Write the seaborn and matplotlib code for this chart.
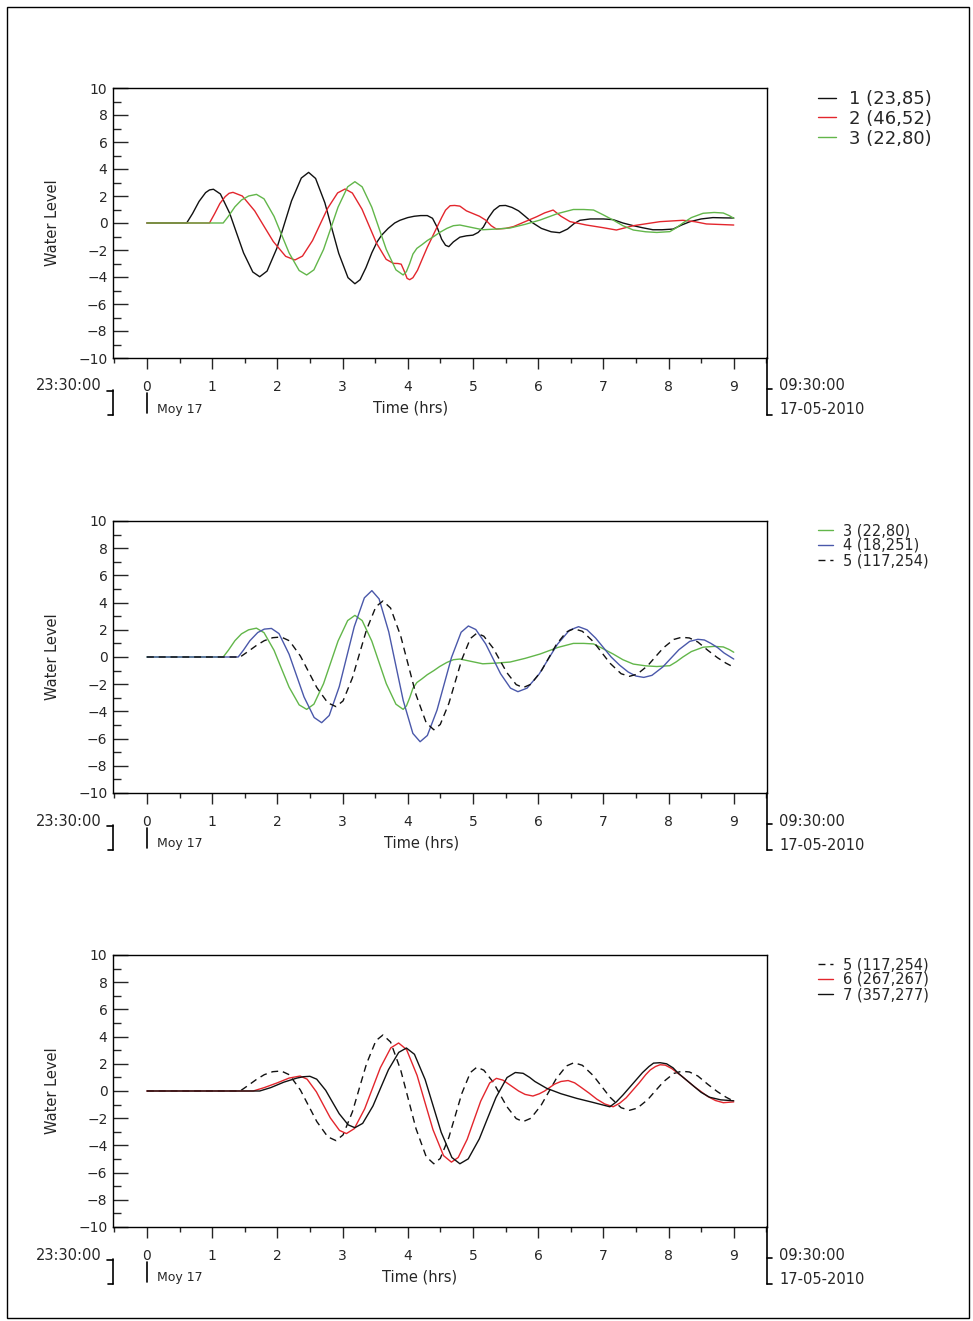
import matplotlib
matplotlib.use("Agg")
import matplotlib.pyplot as plt
from matplotlib.lines import Line2D
from matplotlib.patches import Rectangle
from matplotlib.ticker import MultipleLocator
import pandas as pd
import seaborn as sns

# ---------------------------------------------------------------
# Tide-gauge records: hours after 23:30:00 and water level
# ---------------------------------------------------------------
t1 = [0.0, 0.61, 0.70, 0.80, 0.90, 0.96, 1.02, 1.127, 1.269, 1.375, 1.482, 1.624,
      1.73, 1.843, 1.993, 2.105, 2.218, 2.368, 2.48, 2.587, 2.729, 2.835, 2.942, 3.084,
      3.19, 3.27, 3.36, 3.45, 3.53, 3.60, 3.70, 3.80, 3.88, 4.00, 4.10, 4.20, 4.30, 4.38,
      4.45, 4.52, 4.58, 4.63, 4.70, 4.80, 4.90, 5.00, 5.08, 5.16, 5.24, 5.32, 5.41, 5.50,
      5.60, 5.70, 5.80, 5.92, 6.05, 6.20, 6.33, 6.45, 6.55, 6.64, 6.80, 7.00, 7.15, 7.30,
      7.46, 7.60, 7.76, 7.90, 8.07, 8.20, 8.33, 8.50, 8.68, 8.85, 9.00]
lvl1 = [0.0, 0.0, 0.7, 1.6, 2.25, 2.45, 2.5, 2.15, 0.73, -0.74, -2.21, -3.63,
        -3.98, -3.56, -1.87, -0.12, 1.64, 3.33, 3.75, 3.30, 1.50, -0.375, -2.25, -4.05,
        -4.5, -4.2, -3.3, -2.2, -1.4, -0.9, -0.4, 0.0, 0.2, 0.4, 0.5, 0.55, 0.55, 0.35,
        -0.3, -1.2, -1.65, -1.75, -1.4, -1.05, -0.95, -0.9, -0.7, -0.3, 0.4, 0.95, 1.28, 1.3,
        1.15, 0.9, 0.5, 0.0, -0.4, -0.65, -0.72, -0.45, -0.05, 0.2, 0.3, 0.3, 0.25, 0.0,
        -0.2, -0.35, -0.5, -0.5, -0.45, -0.15, 0.1, 0.3, 0.4, 0.38, 0.37]

t2 = [0.0, 0.96, 1.04, 1.12, 1.20, 1.26, 1.32, 1.463, 1.653, 1.795, 1.938, 2.128,
      2.27, 2.386, 2.540, 2.655, 2.771, 2.925, 3.04, 3.151, 3.299, 3.41, 3.521, 3.669,
      3.78, 3.85, 3.90, 3.95, 3.99, 4.03, 4.08, 4.15, 4.22, 4.30, 4.38, 4.45, 4.52, 4.58,
      4.65, 4.72, 4.80, 4.90, 5.00, 5.10, 5.20, 5.28, 5.36, 5.50, 5.62, 5.80, 5.98, 6.10,
      6.23, 6.35, 6.49, 6.74, 7.00, 7.20, 7.46, 7.87, 8.22, 8.40, 8.58, 9.00]
lvl2 = [0.0, 0.0, 0.7, 1.45, 1.95, 2.2, 2.27, 2.0, 0.90, -0.235, -1.37, -2.47,
        -2.74, -2.45, -1.30, -0.11, 1.08, 2.23, 2.52, 2.22, 1.02, -0.235, -1.49, -2.69,
        -2.99, -3.0, -3.05, -3.6, -4.1, -4.2, -4.05, -3.5, -2.7, -1.8, -1.0, -0.3, 0.4, 0.95,
        1.28, 1.3, 1.25, 0.9, 0.7, 0.5, 0.2, -0.2, -0.45, -0.4, -0.27, 0.1, 0.47, 0.75,
        0.96, 0.5, 0.1, -0.15, -0.35, -0.52, -0.2, 0.1, 0.2, 0.1, -0.07, -0.15]

t3 = [0.0, 1.17, 1.25, 1.35, 1.45, 1.56, 1.68, 1.796, 1.95, 2.065, 2.181, 2.335,
      2.45, 2.561, 2.709, 2.82, 2.931, 3.079, 3.19, 3.301, 3.449, 3.56, 3.671, 3.819,
      3.93, 3.98, 4.03, 4.08, 4.14, 4.22, 4.30, 4.40, 4.49, 4.60, 4.70, 4.80, 4.90, 5.15,
      5.35, 5.57, 5.80, 6.03, 6.30, 6.54, 6.70, 6.85, 7.00, 7.15, 7.30, 7.46, 7.65, 7.82,
      8.02, 8.12, 8.22, 8.35, 8.53, 8.70, 8.84, 8.93, 9.00]
lvl3 = [0.0, 0.0, 0.5, 1.2, 1.7, 2.0, 2.12, 1.79, 0.49, -0.865, -2.22, -3.52,
        -3.85, -3.47, -1.96, -0.395, 1.17, 2.68, 3.06, 2.68, 1.17, -0.395, -1.96, -3.47,
        -3.85, -3.6, -3.0, -2.3, -1.88, -1.6, -1.3, -1.0, -0.7, -0.4, -0.2, -0.15, -0.25, -0.5,
        -0.45, -0.37, -0.1, 0.22, 0.7, 1.0, 1.0, 0.96, 0.6, 0.22, -0.2, -0.52, -0.65, -0.7,
        -0.64, -0.35, 0.0, 0.4, 0.72, 0.78, 0.74, 0.55, 0.35]

t4 = [0.0, 1.40, 1.48, 1.58, 1.70, 1.80, 1.91, 2.026, 2.18, 2.295, 2.41, 2.565,
      2.68, 2.796, 2.95, 3.065, 3.18, 3.335, 3.45, 3.561, 3.709, 3.82, 3.931, 4.079,
      4.19, 4.301, 4.449, 4.56, 4.671, 4.819, 4.93, 5.044, 5.196, 5.31, 5.424, 5.576,
      5.69, 5.83, 6.016, 6.155, 6.295, 6.48, 6.62, 6.75, 6.88, 7.00, 7.12, 7.25, 7.38,
      7.50, 7.62, 7.745, 7.91, 8.035, 8.16, 8.325, 8.45, 8.55, 8.65, 8.75, 8.85, 9.00]
lvl4 = [0.0, 0.0, 0.5, 1.2, 1.8, 2.05, 2.1, 1.72, 0.21, -1.365, -2.94, -4.45,
        -4.83, -4.30, -2.18, 0.03, 2.23, 4.35, 4.88, 4.27, 1.85, -0.675, -3.20, -5.62,
        -6.23, -5.77, -3.91, -1.975, -0.04, 1.82, 2.28, 2.02, 0.96, -0.135, -1.23, -2.29,
        -2.55, -2.29, -1.25, -0.16, 0.93, 1.97, 2.23, 2.0, 1.4, 0.7, 0.0, -0.6, -1.1,
        -1.4, -1.5, -1.35, -0.74, -0.1, 0.54, 1.15, 1.3, 1.25, 1.0, 0.7, 0.3, -0.15]

t5 = [0.0, 1.43, 1.55, 1.68, 1.80, 1.93, 2.06, 2.186, 2.354, 2.48, 2.606, 2.774,
      2.90, 3.008, 3.152, 3.26, 3.368, 3.512, 3.62, 3.737, 3.893, 4.01, 4.127, 4.283,
      4.40, 4.499, 4.631, 4.73, 4.829, 4.961, 5.06, 5.167, 5.309, 5.415, 5.522, 5.664,
      5.77, 5.887, 6.043, 6.16, 6.277, 6.433, 6.55, 6.678, 6.848, 6.975, 7.103, 7.273,
      7.40, 7.52, 7.68, 7.80, 7.92, 8.08, 8.20, 8.32, 8.45, 8.60, 8.75, 8.88, 9.00]
lvl5 = [0.0, 0.0, 0.4, 0.85, 1.2, 1.42, 1.47, 1.19, 0.07, -1.09, -2.25, -3.37,
        -3.65, -3.23, -1.53, 0.24, 2.0, 3.70, 4.12, 3.60, 1.53, -0.615, -2.77, -4.83,
        -5.35, -4.96, -3.41, -1.8, -0.19, 1.36, 1.75, 1.53, 0.66, -0.25, -1.16, -2.03,
        -2.25, -2.01, -1.07, -0.09, 0.90, 1.84, 2.08, 1.89, 1.12, 0.33, -0.46, -1.23,
        -1.42, -1.26, -0.64, 0.02, 0.67, 1.29, 1.45, 1.4, 1.1, 0.5, -0.05, -0.45, -0.75]

t6 = [0.0, 1.63, 1.80, 2.00, 2.18, 2.35, 2.457, 2.599, 2.705, 2.812, 2.954,
      3.06, 3.18, 3.34, 3.46, 3.58, 3.74, 3.86, 3.982, 4.144, 4.265, 4.387, 4.549,
      4.67, 4.774, 4.912, 5.015, 5.119, 5.257, 5.36, 5.46, 5.58, 5.70, 5.80, 5.92, 6.02,
      6.10, 6.25, 6.35, 6.46, 6.56, 6.65, 6.78, 6.90, 7.02, 7.15, 7.25, 7.35, 7.45, 7.55,
      7.65, 7.72, 7.80, 7.87, 7.95, 8.05, 8.20, 8.40, 8.60, 8.72, 8.84, 9.00]
lvl6 = [0.0, 0.0, 0.25, 0.6, 0.95, 1.1, 0.87, -0.06, -1.015, -1.97, -2.90,
        -3.13, -2.77, -1.31, 0.2, 1.71, 3.17, 3.53, 3.05, 1.14, -0.85, -2.84, -4.75,
        -5.23, -4.89, -3.55, -2.15, -0.75, 0.59, 0.93, 0.8, 0.4, 0.0, -0.25, -0.37, -0.2,
        0.0, 0.5, 0.7, 0.77, 0.6, 0.3, -0.15, -0.6, -0.95, -1.16, -0.9, -0.5, 0.05, 0.6,
        1.2, 1.55, 1.8, 1.93, 1.9, 1.65, 1.1, 0.3, -0.4, -0.7, -0.86, -0.8]

t7 = [0.0, 1.73, 1.90, 2.10, 2.30, 2.40, 2.50, 2.604, 2.742, 2.845, 2.949, 3.087,
      3.19, 3.309, 3.467, 3.585, 3.704, 3.862, 3.98, 4.103, 4.267, 4.39, 4.513, 4.677,
      4.80, 4.928, 5.098, 5.225, 5.353, 5.523, 5.65, 5.77, 5.87, 5.95, 6.13, 6.35, 6.59,
      6.85, 7.10, 7.20, 7.30, 7.40, 7.50, 7.60, 7.70, 7.77, 7.87, 7.97, 8.07, 8.15, 8.25,
      8.35, 8.50, 8.63, 8.80, 9.00]
lvl7 = [0.0, 0.0, 0.25, 0.65, 0.95, 1.05, 1.08, 0.87, 0.05, -0.81, -1.67, -2.49,
        -2.7, -2.38, -1.10, 0.23, 1.56, 2.84, 3.16, 2.70, 0.84, -1.095, -3.03, -4.89,
        -5.35, -4.99, -3.52, -2.0, -0.48, 0.99, 1.36, 1.3, 1.0, 0.7, 0.2, -0.2, -0.54,
        -0.85, -1.16, -0.8, -0.3, 0.25, 0.8, 1.35, 1.8, 2.05, 2.08, 2.0, 1.7, 1.3, 0.9,
        0.5, -0.1, -0.46, -0.65, -0.72]

gauge_labels = {
    1: "1 (23,85)", 2: "2 (46,52)", 3: "3 (22,80)", 4: "4 (18,251)",
    5: "5 (117,254)", 6: "6 (267,267)", 7: "7 (357,277)",
}
hour_ticks = list(range(10))
level_ticks = list(range(-10, 11, 2))
start_time = "23:30:00"
start_day = "Moy 17"
end_time = "09:30:00"
end_date = "17-05-2010"
x_title = "Time (hrs)"
y_title = "Water Level"

series = {1: (t1, lvl1), 2: (t2, lvl2), 3: (t3, lvl3), 4: (t4, lvl4),
          5: (t5, lvl5), 6: (t6, lvl6), 7: (t7, lvl7)}

frames = []
for g, (t, v) in series.items():
    frames.append(pd.DataFrame({"gauge": g, "hours": t, "level": v}))
data = pd.concat(frames, ignore_index=True)

# ---------------------------------------------------------------
sns.set_style("white")
plt.rcParams["font.family"] = ["DejaVu Sans"]

W, H = 973, 1321
fig = plt.figure(figsize=(W / 100, H / 100), dpi=100)


def fx(x):
    return x / W


def fy(y):
    return 1 - y / H


styles = {
    1: dict(color="#111111", linestyle="-"),
    2: dict(color="#e3262d", linestyle="-"),
    3: dict(color="#62b64a", linestyle="-"),
    4: dict(color="#4a58aa", linestyle="-"),
    5: dict(color="#111111", linestyle=(0, (5, 3.5))),
    6: dict(color="#e3262d", linestyle="-"),
    7: dict(color="#111111", linestyle="-"),
}

panels = [
    dict(top=88, bottom=358, gauges=[1, 2, 3], leg_y=90, leg_fs=13, leg_sp=0.1, time_x=411),
    dict(top=521, bottom=793, gauges=[3, 4, 5], leg_y=523, leg_fs=10.5, leg_sp=0.0, time_x=422),
    dict(top=955, bottom=1227, gauges=[5, 6, 7], leg_y=957, leg_fs=10.5, leg_sp=0.0, time_x=420),
]

ax_left, ax_right = 113, 767

for p in panels:
    ax = fig.add_axes([fx(ax_left), fy(p["bottom"]), fx(ax_right - ax_left),
                       (p["bottom"] - p["top"]) / H])
    for g in p["gauges"]:
        sub = data[data["gauge"] == g]
        sns.lineplot(data=sub, x="hours", y="level", ax=ax, sort=False,
                     estimator=None, linewidth=1.0, label=gauge_labels[g], **styles[g])

    ax.set_xlim(-0.52, 9.51)
    ax.set_ylim(-10, 10)
    ax.set_xlabel("")
    ax.set_ylabel(y_title, fontsize=10.5)
    ax.yaxis.set_label_coords((60 - ax_left) / (ax_right - ax_left), 0.5)

    for s in ax.spines.values():
        s.set_visible(True)
        s.set_color("black")
        s.set_linewidth(1.0)

    ax.set_yticks(level_ticks)
    ax.yaxis.set_minor_locator(MultipleLocator(1))
    ax.set_xticks(hour_ticks)
    ax.xaxis.set_minor_locator(MultipleLocator(0.5))
    ax.tick_params(axis="y", which="major", direction="in", length=11, width=1.0,
                   labelsize=10, pad=4, left=True, right=False)
    ax.tick_params(axis="y", which="minor", direction="in", length=6, width=1.0,
                   left=True, right=False)
    ax.tick_params(axis="x", which="major", direction="out", length=8, width=1.0,
                   labelsize=10, pad=8, bottom=True, top=False)
    ax.tick_params(axis="x", which="minor", direction="out", length=3.5, width=1.0,
                   bottom=True, top=False)
    ax.grid(False)

    handles, labels = ax.get_legend_handles_labels()
    ax.legend(handles, labels, loc="upper left",
              bbox_to_anchor=(fx(818), fy(p["leg_y"])), bbox_transform=fig.transFigure,
              frameon=False, fontsize=p["leg_fs"], handlelength=1.0, handletextpad=0.7,
              labelspacing=p["leg_sp"], borderpad=0.0, borderaxespad=0.0)

    b = p["bottom"]
    # time axis annotations below each panel
    fig.text(fx(p["time_x"]), fy(b + 50), x_title, fontsize=10.5, ha="center", va="center")
    fig.text(fx(102), fy(b + 28), start_time, fontsize=10.5, ha="right", va="center")
    fig.text(fx(157), fy(b + 51), start_day, fontsize=9, ha="left", va="center")
    fig.text(fx(779), fy(b + 28), end_time, fontsize=10.5, ha="left", va="center")
    fig.text(fx(779), fy(b + 52), end_date, fontsize=10.5, ha="left", va="center")

    lk = dict(color="black", linewidth=1.2, transform=fig.transFigure)
    # left bracket
    fig.add_artist(Line2D([fx(113), fx(113)], [fy(b + 32), fy(b + 57)], **lk))
    fig.add_artist(Line2D([fx(107), fx(113)], [fy(b + 33), fy(b + 33)], **lk))
    fig.add_artist(Line2D([fx(108), fx(113)], [fy(b + 57), fy(b + 57)], **lk))
    # day marker
    fig.add_artist(Line2D([fx(147), fx(147)], [fy(b + 35), fy(b + 55)], **lk))
    # right bracket
    fig.add_artist(Line2D([fx(767), fx(767)], [fy(b), fy(b + 57)], **lk))
    fig.add_artist(Line2D([fx(767), fx(772)], [fy(b + 31), fy(b + 31)], **lk))
    fig.add_artist(Line2D([fx(767), fx(772)], [fy(b + 57), fy(b + 57)], **lk))

# page frame
fig.add_artist(Rectangle((fx(7), fy(1318)), fx(962), (1318 - 7) / H, fill=False,
                         edgecolor="black", linewidth=1.0, transform=fig.transFigure))

fig.savefig("out.png", dpi=100, facecolor="white")
